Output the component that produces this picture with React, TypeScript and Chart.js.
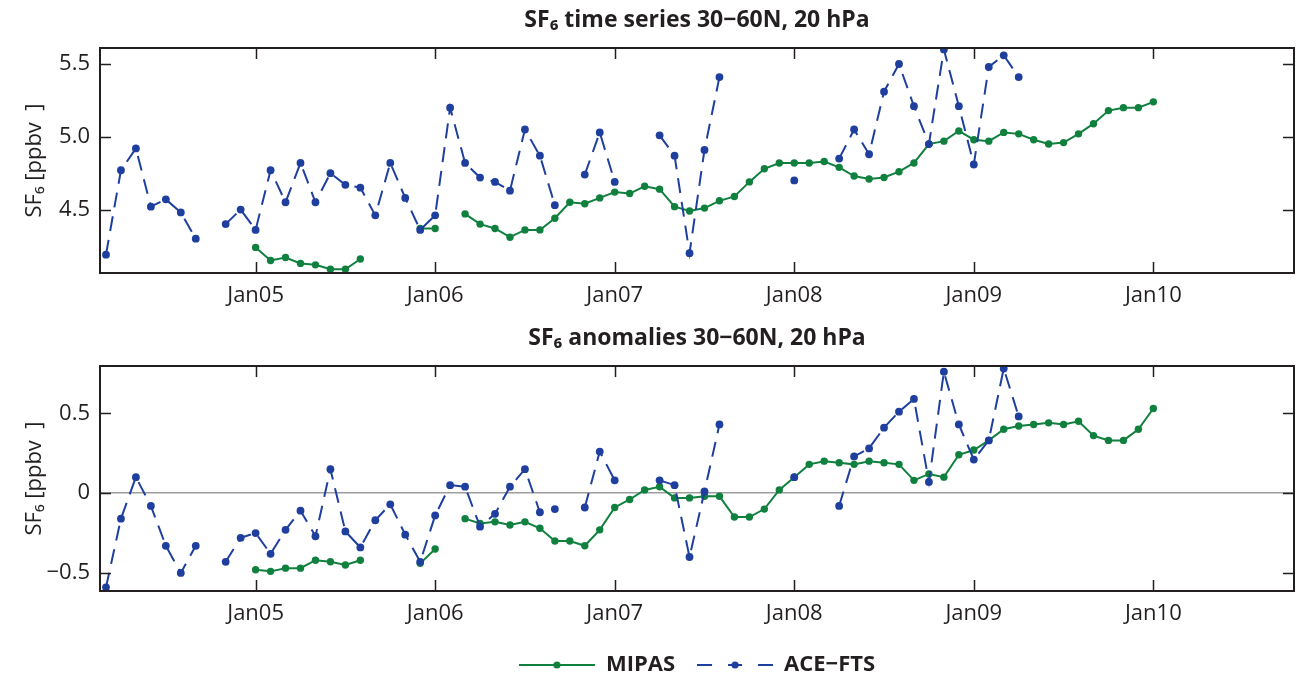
import React, { useEffect, useRef } from 'react';
import { Chart, registerables } from 'chart.js';

Chart.register(...registerables);

// x positions are months counted from Jan 2004 (0 = Jan 2004)
const ACE_FIRST_MONTH = 2; // Mar 2004
const MIPAS_FIRST_MONTH = 12; // Jan 2005

// ---- SF6 time series 30-60N, 20 hPa [ppbv] ----
const aceSeries: (number | null)[] = [
  4.19, 4.77, 4.92, 4.52, 4.57, 4.48, 4.30, null, 4.40, 4.50, // Mar04 - Dec04
  4.36, 4.77, 4.55, 4.82, 4.55, 4.75, 4.67, 4.65, 4.46, 4.82, 4.58, 4.36, // 2005
  4.46, 5.20, 4.82, 4.72, 4.69, 4.63, 5.05, 4.87, 4.53, null, 4.74, 5.03, // 2006
  4.69, null, null, 5.01, 4.87, 4.20, 4.91, 5.41, null, null, null, null, // 2007
  4.70, null, null, 4.85, 5.05, 4.88, 5.31, 5.50, 5.21, 4.95, 5.60, 5.21, // 2008
  4.81, 5.48, 5.56, 5.41, // 2009
];

const mipasSeries: (number | null)[] = [
  4.24, 4.15, 4.17, 4.13, 4.12, 4.09, 4.09, 4.16, null, null, null, 4.37, // 2005
  4.37, null, 4.47, 4.40, 4.37, 4.31, 4.36, 4.36, 4.44, 4.55, 4.54, 4.58, // 2006
  4.62, 4.61, 4.66, 4.64, 4.52, 4.49, 4.51, 4.56, 4.59, 4.69, 4.78, 4.82, // 2007
  4.82, 4.82, 4.83, 4.79, 4.73, 4.71, 4.72, 4.76, 4.82, 4.95, 4.97, 5.04, // 2008
  4.98, 4.97, 5.03, 5.02, 4.98, 4.95, 4.96, 5.02, 5.09, 5.18, 5.20, 5.20, // 2009
  5.24, // Jan10
];

// ---- SF6 anomalies 30-60N, 20 hPa [ppbv] ----
const aceAnomaly: (number | null)[] = [
  -0.59, -0.16, 0.10, -0.08, -0.33, -0.50, -0.33, null, -0.43, -0.28,
  -0.25, -0.38, -0.23, -0.11, -0.27, 0.15, -0.24, -0.34, -0.17, -0.07, -0.26, -0.43,
  -0.14, 0.05, 0.04, -0.21, -0.13, 0.04, 0.15, -0.12, -0.10, null, -0.09, 0.26,
  0.08, null, null, 0.08, 0.05, -0.40, 0.01, 0.43, null, null, null, null,
  0.10, null, null, -0.08, 0.23, 0.28, 0.41, 0.51, 0.59, 0.07, 0.76, 0.43,
  0.21, 0.33, 0.78, 0.48,
];

const mipasAnomaly: (number | null)[] = [
  -0.48, -0.49, -0.47, -0.47, -0.42, -0.43, -0.45, -0.42, null, null, null, -0.44,
  -0.35, null, -0.16, -0.19, -0.18, -0.20, -0.18, -0.22, -0.30, -0.30, -0.33, -0.23,
  -0.09, -0.04, 0.02, 0.04, -0.03, -0.03, -0.02, -0.02, -0.15, -0.15, -0.10, 0.02,
  0.10, 0.18, 0.20, 0.19, 0.18, 0.20, 0.19, 0.18, 0.08, 0.12, 0.10, 0.24,
  0.27, 0.33, 0.40, 0.42, 0.43, 0.44, 0.43, 0.45, 0.36, 0.33, 0.33, 0.40,
  0.53,
];

const xTickMonths = [12, 24, 36, 48, 60, 72];
const xTickLabels = ['Jan05', 'Jan06', 'Jan07', 'Jan08', 'Jan09', 'Jan10'];
const seriesTicks = [4.5, 5.0, 5.5];
const seriesTickLabels = ['4.5', '5.0', '5.5'];
const anomalyTicks = [-0.5, 0, 0.5];
const anomalyTickLabels = ['\u22120.5', '0', '0.5'];

const GREEN = '#10803e';
const BLUE = '#1f3f9e';
const INK = '#231f20';
const FONT = '"Open Sans", "Noto Sans", sans-serif';

const W = 1298;
const TOP_H = 318;
const BOT_H = 368;
const LEGEND_FONT = 22;
const LEGEND_PAD = 22;

Chart.defaults.font.family = FONT;
Chart.defaults.color = INK;

const toPoints = (values: (number | null)[], first: number) =>
  values.map((v, i) => ({ x: first + i, y: v }));

function makeLegendImage(color: string, dashed: boolean) {
  const c = document.createElement('canvas');
  c.width = 76;
  c.height = 10;
  const ctx = c.getContext('2d')!;
  ctx.strokeStyle = color;
  ctx.fillStyle = color;
  ctx.lineWidth = 2;
  const seg = (a: number, b: number) => {
    ctx.beginPath();
    ctx.moveTo(a, 5);
    ctx.lineTo(b, 5);
    ctx.stroke();
  };
  if (dashed) {
    seg(0, 15);
    seg(31, 45);
    seg(61, 76);
  } else {
    seg(0, 76);
  }
  ctx.beginPath();
  ctx.arc(38, 5, 3.6, 0, Math.PI * 2);
  ctx.fill();
  return c;
}

const frameTicks = {
  id: 'frameTicks',
  afterDraw(chart: any) {
    const { ctx, chartArea } = chart;
    const { left, right, top, bottom } = chartArea;
    const xs = chart.scales.x;
    const ys = chart.scales.y;
    const L = 11;
    ctx.save();
    ctx.strokeStyle = INK;
    ctx.lineWidth = 1.5;
    ctx.beginPath();
    xs.ticks.forEach((t: any) => {
      const px = Math.round(xs.getPixelForValue(t.value)) + 0.5;
      ctx.moveTo(px, bottom);
      ctx.lineTo(px, bottom - L);
      ctx.moveTo(px, top);
      ctx.lineTo(px, top + L);
    });
    ys.ticks.forEach((t: any) => {
      const py = Math.round(ys.getPixelForValue(t.value)) + 0.5;
      ctx.moveTo(left, py);
      ctx.lineTo(left + L, py);
      ctx.moveTo(right, py);
      ctx.lineTo(right - L, py);
    });
    ctx.stroke();
    ctx.lineWidth = 2;
    ctx.strokeRect(left, top, right - left, bottom - top);
    ctx.restore();
  },
};

interface Panel {
  title: string;
  ace: (number | null)[];
  mipas: (number | null)[];
  yMin: number;
  yMax: number;
  yTicks: number[];
  yTickLabels: string[];
  zeroLine: boolean;
  xAxisHeight: number;
  legend: boolean;
}

function buildConfig(p: Panel): any {
  const legendImages = [makeLegendImage(GREEN, false), makeLegendImage(BLUE, true)];
  return {
    type: 'line',
    data: {
      datasets: [
        {
          label: 'MIPAS',
          data: toPoints(p.mipas, MIPAS_FIRST_MONTH),
          borderColor: GREEN,
          backgroundColor: GREEN,
          pointBackgroundColor: GREEN,
          borderWidth: 2,
          pointRadius: 3.7,
          pointBorderWidth: 0,
          spanGaps: false,
          tension: 0,
          order: 1,
        },
        {
          label: 'ACE\u2212FTS',
          data: toPoints(p.ace, ACE_FIRST_MONTH),
          borderColor: BLUE,
          backgroundColor: BLUE,
          pointBackgroundColor: BLUE,
          borderWidth: 2,
          borderDash: [15, 9],
          pointRadius: 3.9,
          pointBorderWidth: 0,
          spanGaps: false,
          tension: 0,
          order: 0,
        },
      ],
    },
    options: {
      animation: false,
      responsive: false,
      maintainAspectRatio: false,
      events: [],
      layout: { padding: { left: 0, right: 2, top: 0, bottom: 0 } },
      plugins: {
        tooltip: { enabled: false },
        title: {
          display: true,
          text: p.title,
          fullSize: false,
          color: INK,
          font: { family: FONT, size: 23, weight: 'bold', lineHeight: 1.2 },
          padding: { top: 7, bottom: 13.4 },
        },
        legend: p.legend
          ? {
              display: true,
              position: 'bottom',
              fullSize: false,
              labels: {
                usePointStyle: true,
                pointStyleWidth: 76,
                padding: LEGEND_PAD,
                color: INK,
                font: { family: FONT, size: LEGEND_FONT, weight: 'bold' },
                sort: (a: any, b: any) => a.datasetIndex - b.datasetIndex,
                generateLabels: (chart: any) => {
                  const items = Chart.defaults.plugins.legend.labels.generateLabels(chart);
                  return items.map((it: any) => ({ ...it, pointStyle: legendImages[it.datasetIndex] }));
                },
              },
            }
          : { display: false },
      },
      scales: {
        x: {
          type: 'linear',
          min: 1.6,
          max: 81.4,
          border: { display: false },
          grid: { display: false, drawTicks: false },
          afterBuildTicks: (s: any) => {
            s.ticks = xTickMonths.map((v) => ({ value: v }));
          },
          afterFit: (s: any) => {
            s.height = p.xAxisHeight;
          },
          ticks: {
            autoSkip: false,
            maxRotation: 0,
            minRotation: 0,
            padding: 10,
            color: INK,
            font: { family: FONT, size: 22 },
            callback: (v: number) => xTickLabels[xTickMonths.indexOf(v)],
          },
        },
        y: {
          type: 'linear',
          min: p.yMin,
          max: p.yMax,
          border: { display: false },
          grid: {
            display: p.zeroLine,
            drawTicks: false,
            lineWidth: 1.5,
            color: (c: any) => (c.tick && c.tick.value === 0 ? '#9d9d9d' : 'rgba(0,0,0,0)'),
          },
          afterBuildTicks: (s: any) => {
            s.ticks = p.yTicks.map((v) => ({ value: v }));
          },
          afterFit: (s: any) => {
            s.width = 100;
          },
          ticks: {
            padding: 10,
            color: INK,
            font: { family: FONT, size: 22 },
            callback: (v: number) => p.yTickLabels[p.yTicks.indexOf(v)],
          },
          title: {
            display: true,
            text: 'SF\u2086 [ppbv  ]',
            color: INK,
            font: { family: FONT, size: 22, lineHeight: 1.2 },
            padding: { top: 22, bottom: 0 },
          },
        },
      },
    },
    plugins: [frameTicks],
  };
}

export default function App() {
  const topRef = useRef<HTMLCanvasElement>(null);
  const botRef = useRef<HTMLCanvasElement>(null);

  useEffect(() => {
    const c1 = new Chart(
      topRef.current!,
      buildConfig({
        title: 'SF\u2086 time series 30\u221260N, 20 hPa',
        ace: aceSeries,
        mipas: mipasSeries,
        yMin: 4.064,
        yMax: 5.61,
        yTicks: seriesTicks,
        yTickLabels: seriesTickLabels,
        zeroLine: false,
        xAxisHeight: TOP_H - 273,
        legend: false,
      })
    );
    const c2 = new Chart(
      botRef.current!,
      buildConfig({
        title: 'SF\u2086 anomalies 30\u221260N, 20 hPa',
        ace: aceAnomaly,
        mipas: mipasAnomaly,
        yMin: -0.613,
        yMax: 0.796,
        yTicks: anomalyTicks,
        yTickLabels: anomalyTickLabels,
        zeroLine: true,
        xAxisHeight: BOT_H - 273 - (LEGEND_FONT + LEGEND_PAD + 10),
        legend: true,
      })
    );
    return () => {
      c1.destroy();
      c2.destroy();
    };
  }, []);

  return (
    <div
      style={{
        position: 'absolute',
        left: 0,
        top: 0,
        width: W,
        height: 679,
        overflow: 'hidden',
        background: '#ffffff',
      }}
    >
      <canvas ref={topRef} width={W} height={TOP_H} style={{ position: 'absolute', left: 0, top: 0 }} />
      <canvas ref={botRef} width={W} height={BOT_H} style={{ position: 'absolute', left: 0, top: TOP_H }} />
    </div>
  );
}
